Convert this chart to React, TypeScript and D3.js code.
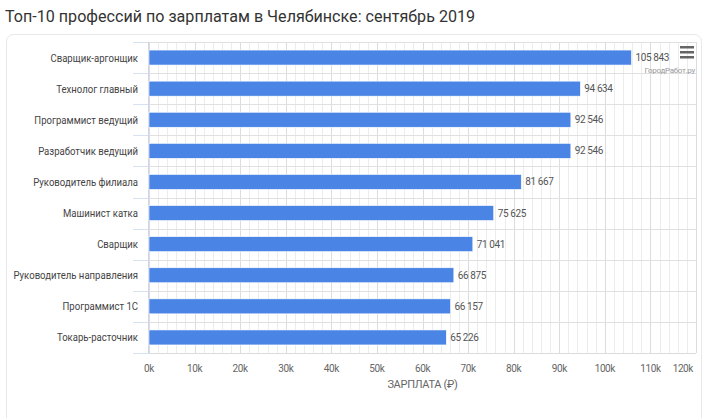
import React from "react";
import * as d3 from "d3";

const categories = [
  "Сварщик-аргонщик",
  "Технолог главный",
  "Программист ведущий",
  "Разработчик ведущий",
  "Руководитель филиала",
  "Машинист катка",
  "Сварщик",
  "Руководитель направления",
  "Программист 1С",
  "Токарь-расточник",
];
const salaries = [105843, 94634, 92546, 92546, 81667, 75625, 71041, 66875, 66157, 65226];
const majorTicks = [0, 10000, 20000, 30000, 40000, 50000, 60000, 70000, 80000, 90000, 100000, 110000, 120000];
const title = "Топ-10 профессий по зарплатам в Челябинске: сентябрь 2019";
const axisTitle = "ЗАРПЛАТА (₽)";
const credit = "ГородРабот.ру";

const W = 705, H = 418;
const plot = { left: 149, right: 696, top: 42, bottom: 353 };

const fmt = (v: number) => d3.format(",")(v).replace(/,/g, " ");

export default function App() {
  const x = d3.scaleLinear().domain([0, 120000]).range([plot.left, plot.right]);
  const y = d3.scaleBand().domain(categories).range([plot.top, plot.bottom]).paddingInner(0).paddingOuter(0);
  const minorTicks = d3.range(0, 120001, 2000);
  const bh = 15;
  const font = "Roboto, 'Noto Sans', sans-serif";

  return (
    <svg width={W} height={H} style={{ position: "absolute", left: 0, top: 0 }} fontFamily={font}>
      <rect width={W} height={H} fill="#fff" />
      <text x={5} y={22} fontSize={16.1} fill="#333">{title}</text>
      <rect x={6.5} y={34.5} width={695} height={420} rx={7} fill="#fff" stroke="#e8e8e8" />
      {minorTicks.map((t) => (
        <line key={"m" + t} x1={Math.round(x(t)) + 0.5} x2={Math.round(x(t)) + 0.5} y1={plot.top} y2={plot.bottom} stroke="#ececec" />
      ))}
      {majorTicks.map((t) => (
        <line key={"M" + t} x1={Math.round(x(t)) + 0.5} x2={Math.round(x(t)) + 0.5} y1={plot.top} y2={plot.bottom} stroke="#dcdcdc" />
      ))}
      {categories.map((c, i) => (
        <line key={"h" + i} x1={plot.left} x2={plot.right} y1={Math.round(y(c)!) + 0.5} y2={Math.round(y(c)!) + 0.5} stroke="#e0e0e0" />
      ))}
      <line x1={plot.left} x2={plot.right} y1={plot.bottom + 0.5} y2={plot.bottom + 0.5} stroke="#dcdcdc" />
      {categories.map((c, i) => (
        <line key={"ct" + i} x1={133} x2={plot.left} y1={Math.round(y(c)!) + 0.5} y2={Math.round(y(c)!) + 0.5} stroke="#d6e2f2" />
      ))}
      <line x1={133} x2={plot.left} y1={plot.bottom + 0.5} y2={plot.bottom + 0.5} stroke="#d6e2f2" />
      <line x1={plot.left - 0.5} x2={plot.left - 0.5} y1={plot.top} y2={plot.bottom} stroke="#ccd6eb" />
      {categories.map((c, i) => {
        const cy = y(c)! + y.bandwidth() / 2;
        return (
          <g key={"b" + i}>
            <rect x={x(0)} y={cy - bh / 2} width={x(salaries[i]) - x(0)} height={bh} fill="#4a85e6" stroke="#fff" strokeWidth={0.6} />
            <text x={x(salaries[i]) + 4} y={cy + 3.5} fontSize={10} fill="#555" letterSpacing={-0.4}>{fmt(salaries[i])}</text>
            <g transform={`translate(138,${cy + 4}) scale(0.87,1)`}>
              <text x={0} y={0} fontSize={11} fill="#444" textAnchor="end">{c}</text>
            </g>
          </g>
        );
      })}
      {majorTicks.map((t, i) => (
        <text key={"xl" + t} x={i === majorTicks.length - 1 ? plot.right - 3 : x(t)} y={372} fontSize={10} fill="#666"
          textAnchor={i === majorTicks.length - 1 ? "end" : "middle"} letterSpacing={-0.4}>{t / 1000 + "k"}</text>
      ))}
      <text x={(plot.left + plot.right) / 2} y={388} fontSize={11} fill="#666" textAnchor="middle" letterSpacing={-0.3}>{axisTitle}</text>
      {[0, 5, 10].map((o) => (
        <rect key={"mn" + o} x={680} y={46 + o} width={14} height={2.5} fill="#666" />
      ))}
      <text x={695} y={73} fontSize={8} fill="#999" textAnchor="end" letterSpacing={-0.3}>{credit}</text>
    </svg>
  );
}
